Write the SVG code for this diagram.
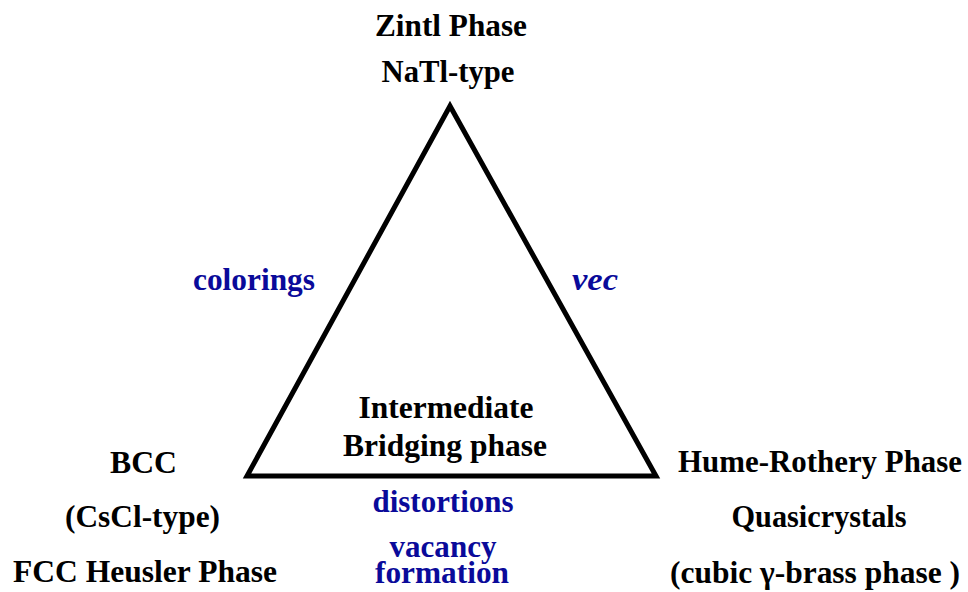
<svg xmlns="http://www.w3.org/2000/svg" width="968" height="592" viewBox="0 0 968 592">
<style>
text{font-family:"Liberation Serif","Times New Roman",serif;font-weight:bold;font-size:31.5px;text-anchor:middle}
.k{fill:#000}
.b{fill:#0a0a9a}
.i{font-style:italic}
.tri{fill:none;stroke:#000;stroke-width:5;stroke-linejoin:miter}
</style>
<rect width="968" height="592" fill="#fff"/>
<g id="connectors">
<polygon class="tri" points="450,106 247,476 656,476"/>
</g>
<g id="zintl">
<text class="k" x="451" y="36" textLength="152" lengthAdjust="spacingAndGlyphs">Zintl Phase</text>
<text class="k" x="448" y="82" textLength="133" lengthAdjust="spacingAndGlyphs">NaTl-type</text>
</g>
<g id="colorings">
<text class="b" x="254" y="290" textLength="122" lengthAdjust="spacingAndGlyphs">colorings</text>
</g>
<g id="vec">
<text class="b i" x="595" y="290" textLength="46" lengthAdjust="spacingAndGlyphs">vec</text>
</g>
<g id="intermediate">
<text class="k" x="446" y="418" textLength="175" lengthAdjust="spacingAndGlyphs">Intermediate</text>
<text class="k" x="445" y="456" textLength="204" lengthAdjust="spacingAndGlyphs">Bridging phase</text>
</g>
<g id="distortions">
<text class="b" x="443" y="512" textLength="141" lengthAdjust="spacingAndGlyphs">distortions</text>
</g>
<g id="vacancy">
<text class="b" x="443" y="557" textLength="107" lengthAdjust="spacingAndGlyphs">vacancy</text>
<text class="b" x="442" y="583" textLength="134" lengthAdjust="spacingAndGlyphs">formation</text>
</g>
<g id="bcc">
<text class="k" x="143.5" y="473" textLength="67" lengthAdjust="spacingAndGlyphs">BCC</text>
<text class="k" x="142.5" y="527" textLength="155" lengthAdjust="spacingAndGlyphs">(CsCl-type)</text>
<text class="k" x="145" y="582" textLength="264" lengthAdjust="spacingAndGlyphs">FCC Heusler Phase</text>
</g>
<g id="hume">
<text class="k" x="820" y="472" textLength="284" lengthAdjust="spacingAndGlyphs">Hume-Rothery Phase</text>
<text class="k" x="819" y="527" textLength="175" lengthAdjust="spacingAndGlyphs">Quasicrystals</text>
<text class="k" x="815" y="583" textLength="290" lengthAdjust="spacingAndGlyphs">(cubic γ-brass phase )</text>
</g>
</svg>
